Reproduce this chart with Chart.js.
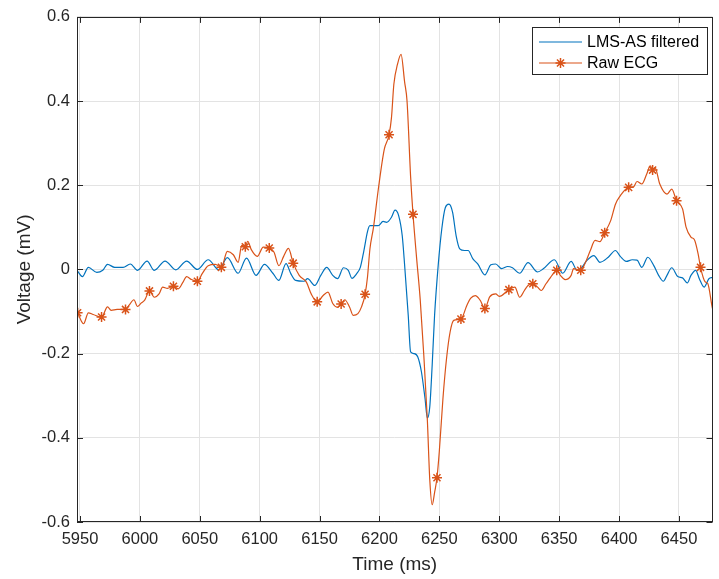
<!DOCTYPE html>
<html>
<head>
<meta charset="utf-8">
<script src="https://cdn.jsdelivr.net/npm/chart.js@4.4.1/dist/chart.umd.min.js"></script>
<style>
  html, body { margin: 0; padding: 0; background: #fff; }
  canvas { display: block; }
</style>
</head>
<body>
<canvas id="ecgChart" width="719" height="579"></canvas>
<script>
// values (time in ms, voltage in mV)
const filteredTime = [5948, 5952, 5957, 5964, 5969, 5973, 5979, 5986, 5992, 5998, 6006, 6012, 6021, 6030, 6039, 6048,
  6057, 6066, 6073, 6082, 6089, 6097, 6104, 6111, 6116, 6122, 6126, 6130, 6137, 6140, 6146, 6151, 6156, 6161, 6165,
  6170, 6174, 6177, 6181, 6184, 6187, 6190, 6192, 6199, 6203, 6206, 6210, 6213, 6216, 6219, 6221, 6224, 6226, 6229,
  6232, 6235, 6238, 6240, 6242, 6244, 6246, 6249, 6252, 6255, 6258, 6261, 6264, 6267, 6271, 6274, 6278, 6282, 6288,
  6293, 6297, 6302, 6307, 6311, 6317, 6324, 6332, 6337, 6346, 6353, 6360, 6365, 6369, 6373, 6379, 6384, 6391, 6397,
  6401, 6406, 6411, 6415, 6419, 6424, 6429, 6433, 6437, 6440, 6444, 6449, 6453, 6457, 6460, 6464, 6467, 6471, 6475, 6478];
const filteredVoltage = [-0.004, -0.017, 0.005, -0.007, -0.002, 0.012, 0.005, 0.005, 0.013, -0.002, 0.020, -0.002, 0.020,
  -0.001, 0.020, 0.000, 0.023, -0.001, 0.028, -0.009, 0.027, -0.014, 0.012, -0.009, -0.026, 0.014, -0.010, -0.026,
  -0.028, -0.022, -0.038, -0.014, 0.005, -0.014, -0.022, 0.004, -0.002, -0.021, -0.010, 0.005, 0.045, 0.090, 0.104,
  0.104, 0.114, 0.112, 0.124, 0.141, 0.128, 0.080, 0.010, -0.109, -0.196, -0.200, -0.208, -0.243, -0.306, -0.353,
  -0.326, -0.227, -0.109, 0.009, 0.096, 0.147, 0.155, 0.136, 0.080, 0.049, 0.045, 0.045, 0.025, 0.013, -0.013, 0.011,
  0.013, 0.002, 0.007, 0.004, -0.009, 0.016, -0.006, 0.002, 0.023, -0.009, 0.019, -0.002, 0.005, 0.021, 0.033, 0.017,
  0.029, 0.045, 0.031, 0.019, 0.023, 0.022, 0.005, 0.029, 0.009, -0.014, -0.028, -0.014, 0.004, -0.017, -0.020, -0.032,
  -0.014, -0.002, -0.022, -0.042, -0.022, -0.019];

const rawTime = [5948, 5953, 5957, 5961, 5968, 5973, 5976, 5981, 5988, 5991, 5995, 5998, 6001, 6004, 6008, 6012, 6016,
  6019, 6023, 6028, 6032, 6036, 6039, 6043, 6048, 6052, 6057, 6063, 6068, 6073, 6078, 6082, 6085, 6088, 6090, 6093,
  6098, 6103, 6108, 6112, 6116, 6120, 6124, 6128, 6133, 6139, 6143, 6148, 6153, 6157, 6161, 6165, 6168, 6171, 6175,
  6178, 6182, 6185, 6188, 6190, 6192, 6195, 6199, 6204, 6208, 6210, 6212, 6215, 6218, 6221, 6223, 6226, 6228, 6231,
  6234, 6237, 6240, 6242, 6244, 6246, 6248, 6250, 6253, 6256, 6259, 6262, 6268, 6273, 6276, 6280, 6284, 6288, 6292,
  6297, 6300, 6308, 6313, 6317, 6321, 6324, 6328, 6332, 6335, 6339, 6342, 6344, 6348, 6351, 6355, 6360, 6362, 6368,
  6372, 6376, 6380, 6384, 6388, 6393, 6397, 6401, 6408, 6412, 6415, 6419, 6423, 6426, 6428, 6430, 6434, 6440, 6444,
  6448, 6453, 6456, 6460, 6463, 6466, 6468, 6472, 6474, 6478, 6482];
const rawVoltage = [-0.103, -0.129, -0.103, -0.107, -0.113, -0.089, -0.097, -0.095, -0.095, -0.085, -0.072, -0.088,
  -0.080, -0.073, -0.051, -0.066, -0.058, -0.042, -0.045, -0.040, -0.046, -0.030, -0.017, -0.024, -0.028, -0.010, 0.009,
  0.012, 0.005, 0.043, 0.035, 0.017, 0.057, 0.054, 0.067, 0.047, 0.031, 0.053, 0.051, 0.041, 0.009, 0.031, 0.050, 0.015,
  -0.014, -0.030, -0.058, -0.077, -0.062, -0.054, -0.081, -0.090, -0.082, -0.072, -0.089, -0.109, -0.105, -0.089,
  -0.059, -0.018, 0.048, 0.100, 0.190, 0.285, 0.320, 0.360, 0.440, 0.487, 0.511, 0.445, 0.400, 0.220, 0.131, 0.027,
  -0.071, -0.204, -0.360, -0.500, -0.559, -0.530, -0.495, -0.430, -0.306, -0.211, -0.148, -0.121, -0.118, -0.085,
  -0.069, -0.062, -0.073, -0.093, -0.065, -0.058, -0.064, -0.048, -0.042, -0.066, -0.050, -0.038, -0.034, -0.042,
  -0.050, -0.034, -0.022, -0.014, -0.002, -0.014, -0.024, -0.014, 0.002, -0.002, 0.017, 0.045, 0.069, 0.066, 0.087,
  0.116, 0.155, 0.175, 0.195, 0.196, 0.209, 0.203, 0.226, 0.246, 0.236, 0.242, 0.203, 0.179, 0.191, 0.163, 0.144,
  0.100, 0.077, 0.070, 0.037, 0.005, -0.030, -0.033, -0.093, -0.120];

// a marker every 20 ms on the raw trace, starting at 5948
const markerStart = 5948;
const markerStep = 20;

const xTicks = [5950, 6000, 6050, 6100, 6150, 6200, 6250, 6300, 6350, 6400, 6450];
const xTickLabels = ['5950', '6000', '6050', '6100', '6150', '6200', '6250', '6300', '6350', '6400', '6450'];
const yTicks = [-0.6, -0.4, -0.2, 0, 0.2, 0.4, 0.6];
const yTickLabels = ['-0.6', '-0.4', '-0.2', '0', '0.2', '0.4', '0.6'];

const seriesLabels = ['LMS-AS filtered', 'Raw ECG'];
const blue = '#0072BD';
const orange = '#D95319';
const axisColor = '#262626';
const fontFamily = "'Liberation Sans', Arial, Helvetica, sans-serif";

function toPoints(times, values) {
  return times.map((t, i) => ({ x: t, y: values[i] }));
}

function drawStar(ctx, x, y, r) {
  const d = r * Math.SQRT1_2;
  ctx.beginPath();
  ctx.moveTo(x - r, y); ctx.lineTo(x + r, y);
  ctx.moveTo(x, y - r); ctx.lineTo(x, y + r);
  ctx.moveTo(x - d, y - d); ctx.lineTo(x + d, y + d);
  ctx.moveTo(x - d, y + d); ctx.lineTo(x + d, y - d);
  ctx.stroke();
}

// box round the plot, with ticks pointing inward like matlab
const frameTicks = {
  id: 'frameTicks',
  afterDatasetsDraw(chart) {
    const { ctx, chartArea: a, scales } = chart;
    const len = 6;
    ctx.save();
    ctx.strokeStyle = axisColor;
    ctx.lineWidth = 1;
    ctx.beginPath();
    xTicks.forEach(v => {
      const px = Math.round(scales.x.getPixelForValue(v)) + 0.5;
      ctx.moveTo(px, a.bottom); ctx.lineTo(px, a.bottom - len);
      ctx.moveTo(px, a.top); ctx.lineTo(px, a.top + len);
    });
    yTicks.forEach(v => {
      const py = Math.round(scales.y.getPixelForValue(v)) + 0.5;
      ctx.moveTo(a.left, py); ctx.lineTo(a.left + len, py);
      ctx.moveTo(a.right, py); ctx.lineTo(a.right - len, py);
    });
    ctx.stroke();
    ctx.strokeRect(Math.round(a.left) + 0.5, Math.round(a.top) + 0.5,
      Math.round(a.right - a.left) - 1, Math.round(a.bottom - a.top) - 1);
    ctx.restore();
  }
};

// matlab style legend box in the upper right corner
const boxLegend = {
  id: 'boxLegend',
  afterDraw(chart) {
    const ctx = chart.ctx;
    const left = 532.5, top = 27.5, w = 175, h = 47;
    ctx.save();
    ctx.fillStyle = '#fff';
    ctx.fillRect(left, top, w, h);
    ctx.strokeStyle = axisColor;
    ctx.lineWidth = 1;
    ctx.strokeRect(left, top, w, h);
    ctx.font = '16px ' + fontFamily;
    ctx.textBaseline = 'middle';
    ctx.fillStyle = '#000';
    chart.data.datasets.forEach((ds, i) => {
      const y = 42 + i * 21;
      ctx.strokeStyle = ds.borderColor;
      ctx.lineWidth = 1.2;
      ctx.beginPath();
      ctx.moveTo(539, y); ctx.lineTo(582, y);
      ctx.stroke();
      if (ds.showMarkers) {
        ctx.lineWidth = 1.5;
        drawStar(ctx, 560.5, y, 5);
      }
      ctx.fillText(ds.label, 587, y + 0.5);
    });
    ctx.restore();
  }
};

const ctx = document.getElementById('ecgChart').getContext('2d');
const ecgChart = new Chart(ctx, {
  type: 'line',
  data: {
    datasets: [
      {
        label: seriesLabels[0],
        data: toPoints(filteredTime, filteredVoltage),
        borderColor: blue,
        borderWidth: 1.2,
        pointRadius: 0,
        cubicInterpolationMode: 'monotone',
        order: 1
      },
      {
        label: seriesLabels[1],
        data: toPoints(rawTime, rawVoltage),
        borderColor: orange,
        backgroundColor: orange,
        borderWidth: 1.2,
        showMarkers: true,
        pointStyle: 'star',
        pointRadius: c => ((c.raw.x - markerStart) % markerStep === 0 ? 5 : 0),
        pointBorderWidth: 1.5,
        pointBorderColor: orange,
        cubicInterpolationMode: 'monotone',
        order: 0
      }
    ]
  },
  options: {
    responsive: false,
    animation: false,
    devicePixelRatio: 1,
    layout: { padding: { top: 15, right: 1, left: 0, bottom: 0 } },
    plugins: {
      legend: { display: false },
      tooltip: { enabled: false }
    },
    scales: {
      x: {
        type: 'linear',
        min: 5947.5,
        max: 6478,
        afterBuildTicks: s => { s.ticks = xTicks.map(v => ({ value: v })); },
        afterFit: s => { s.height = 57; },
        grid: { color: '#e3e3e3', drawTicks: false },
        border: { display: false },
        ticks: {
          padding: 8,
          color: axisColor,
          font: { family: fontFamily, size: 16.5 },
          maxRotation: 0,
          callback: v => xTickLabels[xTicks.indexOf(v)]
        },
        title: {
          display: true,
          text: 'Time (ms)',
          color: axisColor,
          font: { family: fontFamily, size: 19 },
          padding: { top: 0, bottom: 3 }
        }
      },
      y: {
        min: -0.6,
        max: 0.6,
        afterBuildTicks: s => { s.ticks = yTicks.map(v => ({ value: v })); },
        afterFit: s => { s.width = 77; },
        grid: { color: '#e3e3e3', drawTicks: false },
        border: { display: false },
        ticks: {
          padding: 7,
          color: axisColor,
          font: { family: fontFamily, size: 16.5 },
          callback: v => yTickLabels[yTicks.indexOf(v)]
        },
        title: {
          display: true,
          text: 'Voltage (mV)',
          color: axisColor,
          font: { family: fontFamily, size: 19 },
          padding: { top: 13, bottom: 0 }
        }
      }
    }
  },
  plugins: [frameTicks, boxLegend]
});
</script>
</body>
</html>
